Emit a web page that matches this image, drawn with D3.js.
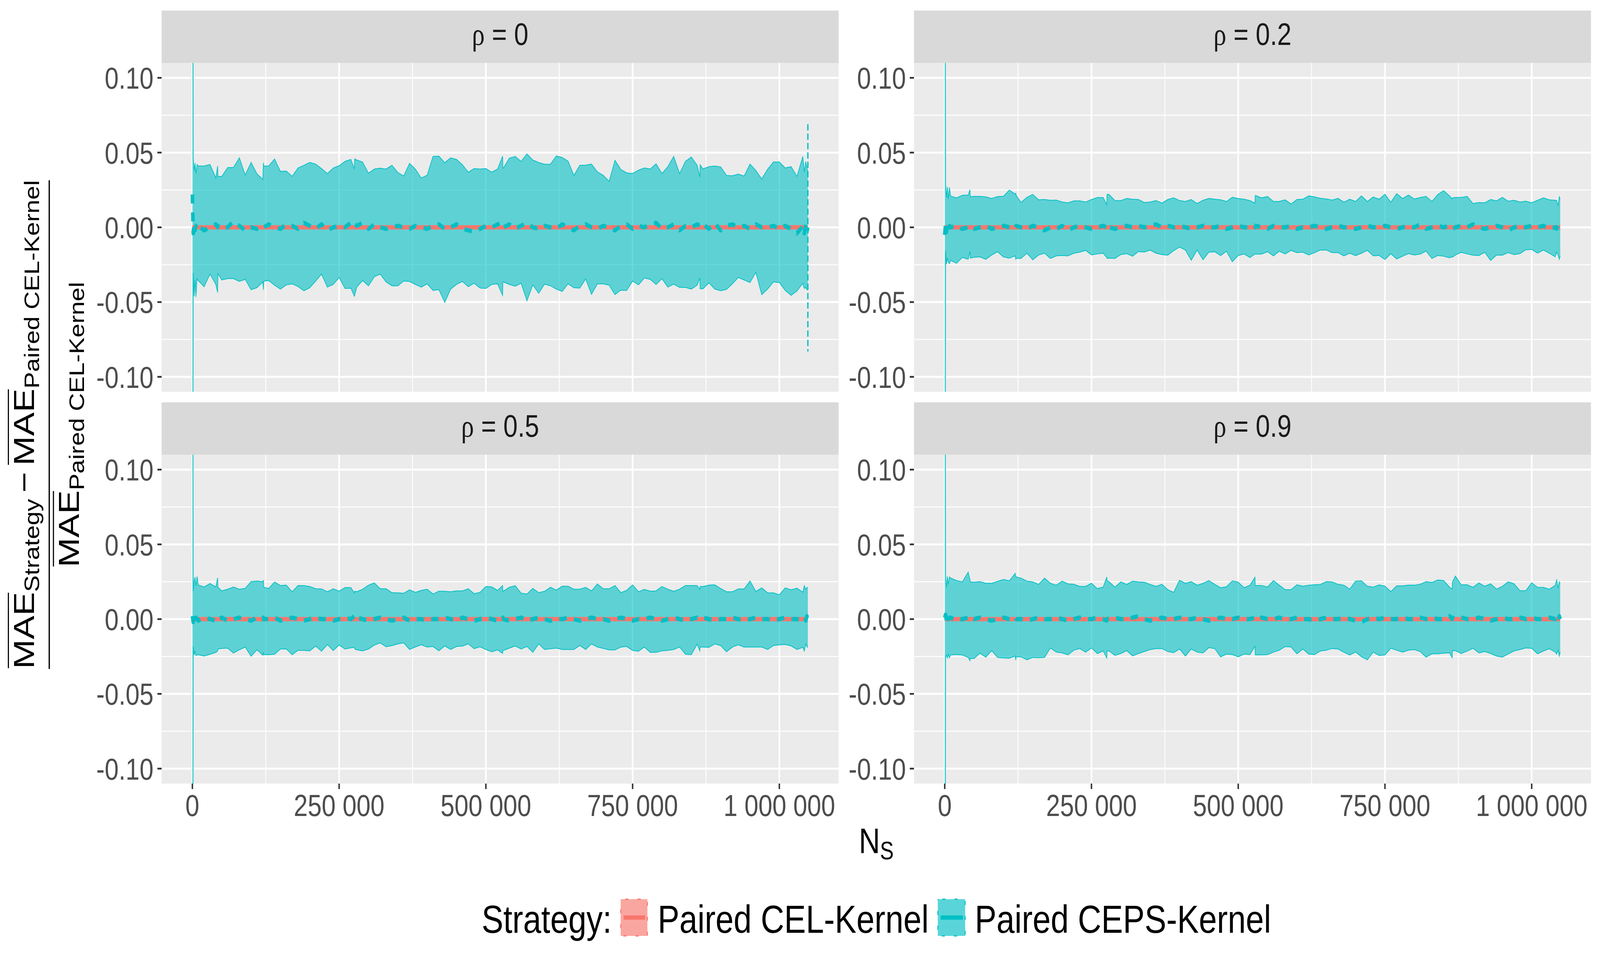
<!DOCTYPE html>
<html><head><meta charset="utf-8">
<script src="https://cdn.jsdelivr.net/npm/d3@7"></script>
<style>html,body{margin:0;padding:0;background:#fff;overflow:hidden} svg{display:block;width:100vw;height:100vh}</style>
</head><body>
<svg id="chart" viewBox="0 0 4970 2450" preserveAspectRatio="none"></svg>
<script>
// ---------------- DATA ----------------
const NS = [1,
 1500,3000,4500,6000,8000,
 10000,20000,30000,40000,
 43000,43500,
 50000,60000,70000,80000,90000,100000,110000,120000,
 121000,121500,
 130000,140000,150000,160000,170000,180000,190000,200000,210000,220000,230000,240000,250000,260000,270000,
 276000,276500,
 280000,290000,300000,310000,320000,330000,340000,350000,360000,370000,380000,390000,400000,410000,420000,430000,440000,450000,460000,470000,480000,490000,500000,510000,520000,
 528500,529000,
 530000,540000,550000,560000,570000,580000,590000,600000,610000,620000,630000,640000,650000,660000,670000,680000,690000,700000,710000,720000,730000,740000,750000,760000,770000,780000,790000,800000,810000,820000,830000,840000,850000,860000,
 864500,865000,
 870000,880000,890000,900000,910000,920000,930000,940000,950000,960000,970000,980000,990000,1000000,1010000,1020000,1030000,1040000,
 1042500,1045000,1047000,1048576];

const rhoLabels = ["0","0.2","0.5","0.9"];
const strategies = ["Paired CEL-Kernel","Paired CEPS-Kernel"];

// Paired CEL-Kernel relative to itself (reference line)
const celNS = [1, 1048576];
const celRel = [0, 0];

// rho = 0
const cepsUpper_r0 = [0.5,
 0.046,0.038,0.043,0.036,0.042,
 0.041,0.041,0.042,0.033,
 0.041,0.034,
 0.034,0.040,0.040,0.0465,0.035,0.0434,0.0358,0.032,
 0.0432,0.041,
 0.041,0.0457,0.0374,0.0376,0.0341,0.0397,0.0415,0.0434,0.0423,0.0393,0.036,0.0397,0.0412,0.0441,0.0454,
 0.0391,0.0457,
 0.045,0.0437,0.0362,0.039,0.0396,0.039,0.0415,0.0367,0.0343,0.0428,0.0389,0.0329,0.0349,0.0474,0.0476,0.0432,0.0465,0.0454,0.0419,0.0369,0.0393,0.039,0.0393,0.0369,0.039,
 0.0476,0.0396,
 0.0396,0.0463,0.0474,0.0441,0.0491,0.045,0.0434,0.0422,0.0422,0.0477,0.0467,0.0443,0.0347,0.0415,0.0416,0.0423,0.0371,0.0347,0.0308,0.0448,0.0387,0.0364,0.036,0.0382,0.0397,0.039,0.0425,0.036,0.0406,0.0474,0.036,0.0441,0.047,0.0415,
 0.0336,0.0418,
 0.0391,0.0406,0.041,0.0404,0.0347,0.0345,0.0356,0.0343,0.0423,0.038,0.0323,0.0389,0.0437,0.0437,0.0397,0.0406,0.0341,0.0474,
 0.0371,0.0439,0.0397,0.037];
const cepsLower_r0 = [-0.5,
 -0.0304,-0.0461,-0.0352,-0.0465,-0.0343,
 -0.0356,-0.0397,-0.0313,-0.0382,
 -0.0435,-0.031,
 -0.0352,-0.0343,-0.0343,-0.0362,-0.0348,-0.0417,-0.0404,-0.0365,
 -0.0417,-0.036,
 -0.0356,-0.0387,-0.0413,-0.0385,-0.0378,-0.0396,-0.0424,-0.0404,-0.0359,-0.0313,-0.04,-0.0382,-0.0335,-0.0409,-0.0407,
 -0.0461,-0.0455,
 -0.040,-0.0356,-0.0391,-0.033,-0.0313,-0.0365,-0.0391,-0.0391,-0.0359,-0.0362,-0.0382,-0.04,-0.0378,-0.0422,-0.0417,-0.0502,-0.0413,-0.0382,-0.0362,-0.0397,-0.0374,-0.0406,-0.0409,-0.0382,-0.0378,
 -0.0455,-0.0365,
 -0.0365,-0.0382,-0.0394,-0.0374,-0.0491,-0.0385,-0.0441,-0.038,-0.0391,-0.0413,-0.0429,-0.0378,-0.0404,-0.0406,-0.0345,-0.0448,-0.0378,-0.0378,-0.0387,-0.045,-0.042,-0.0422,-0.0359,-0.0385,-0.0339,-0.0348,-0.0382,-0.0343,-0.04,-0.038,-0.0402,-0.0402,-0.0413,-0.0387,
 -0.0339,-0.0411,
 -0.0411,-0.0371,-0.0413,-0.0424,-0.0415,-0.0378,-0.0335,-0.0352,-0.0369,-0.0301,-0.045,-0.0413,-0.0365,-0.0369,-0.0422,-0.0455,-0.0426,-0.0374,
 -0.0409,-0.0402,-0.0417,-0.042];
const cepsMean_r0 = [0.022,
 -0.004,0.003,-0.002,0.001,-0.001,
 0.001,-0.002,0.000,0.002,
 0.000,0.001,
 -0.001,0.000,0.004,0.001,-0.002,0.000,-0.001,0.001,
 0.001,0.000,
 0.002,0.000,-0.001,0.002,0.001,-0.001,0.003,0.001,-0.001,0.002,-0.002,0.000,0.001,0.000,0.003,
 0.004,0.002,
 0.001,0.003,-0.001,0.002,0.000,-0.001,0.000,0.001,0.000,-0.001,0.001,0.000,-0.001,0.001,0.002,-0.001,0.000,0.002,-0.001,-0.002,-0.003,-0.001,0.001,0.000,0.002,
 0.003,0.001,
 0.000,0.002,-0.001,0.001,0.003,0.000,-0.001,0.001,0.000,-0.001,0.002,0.000,-0.002,0.001,0.002,0.000,-0.001,0.001,0.000,-0.002,0.001,0.002,-0.001,0.001,0.000,0.002,0.003,-0.001,0.000,0.002,-0.002,0.001,0.000,0.002,
 0.001,0.000,
 0.002,-0.001,0.003,-0.002,0.001,0.002,0.000,0.001,-0.001,0.002,0.000,0.000,0.001,-0.001,0.001,-0.001,-0.004,0.001,
 -0.004,0.002,-0.003,0.000];
// last-point interval drawn as dashed segment (rho = 0 only)
const endSpikeN_r0 = [1048576];
const endSpikeLo_r0 = [-0.083];
const endSpikeHi_r0 = [0.069];

// rho = 0.2
const cepsUpper_r02 = [0.5,
 0.0293,0.0197,0.0271,0.0188,0.0267,
 0.021,0.0197,0.0214,0.0216,
 0.0251,0.0205,
 0.0207,0.0207,0.0204,0.0193,0.0206,0.0208,0.0249,0.0223,
 0.0228,0.0215,
 0.0166,0.0201,0.022,0.0184,0.0186,0.0181,0.0182,0.0169,0.0164,0.0177,0.0177,0.0169,0.0186,0.0199,0.0199,
 0.0151,0.022,
 0.022,0.0179,0.0179,0.0193,0.0188,0.0186,0.0166,0.0169,0.0179,0.0162,0.0186,0.0197,0.0179,0.0173,0.0186,0.0159,0.0181,0.0193,0.0188,0.0184,0.0173,0.0201,0.0193,0.0188,0.0179,
 0.0162,0.0212,
 0.0212,0.0197,0.0206,0.0173,0.0173,0.0184,0.0156,0.0186,0.0188,0.021,0.0204,0.0194,0.019,0.0182,0.0194,0.0168,0.0188,0.0173,0.021,0.0173,0.0203,0.0188,0.0221,0.0168,0.0225,0.0193,0.0216,0.019,0.0199,0.0207,0.0173,0.0219,0.0245,0.021,
 0.019,0.0197,
 0.02,0.02,0.0207,0.0159,0.0166,0.0164,0.0186,0.0177,0.02,0.0175,0.0181,0.0169,0.0175,0.0164,0.0181,0.0197,0.0184,0.0181,
 0.0179,0.0145,0.0204,0.019];
const cepsLower_r02 = [-0.5,
 -0.0156,-0.0247,-0.0204,-0.0232,-0.0243,
 -0.0221,-0.024,-0.0202,-0.0213,
 -0.016,-0.0206,
 -0.02,-0.0198,-0.0214,-0.0185,-0.0163,-0.0198,-0.0206,-0.0191,
 -0.0213,-0.0208,
 -0.0208,-0.0173,-0.0217,-0.0185,-0.0173,-0.0208,-0.0191,-0.0188,-0.0191,-0.0173,-0.0166,-0.0154,-0.0184,-0.0178,-0.0173,
 -0.0202,-0.0208,
 -0.0206,-0.0208,-0.0182,-0.0176,-0.0193,-0.0162,-0.0165,-0.0152,-0.0173,-0.0182,-0.0186,-0.0156,-0.0132,-0.0152,-0.022,-0.0152,-0.0217,-0.0166,-0.0163,-0.0189,-0.016,-0.023,-0.0189,-0.0178,-0.0202,
 -0.0178,-0.0179,
 -0.0179,-0.0179,-0.0163,-0.0191,-0.016,-0.0178,-0.0154,-0.0169,-0.0166,-0.0185,-0.0169,-0.0152,-0.0152,-0.0169,-0.0169,-0.0191,-0.0173,-0.0189,-0.0173,-0.0154,-0.0191,-0.0188,-0.0215,-0.0176,-0.0211,-0.0193,-0.0176,-0.0185,-0.0179,-0.0159,-0.0208,-0.0188,-0.0193,-0.0204,
 -0.0197,-0.02,
 -0.0185,-0.0167,-0.0178,-0.0186,-0.0189,-0.0167,-0.0221,-0.0186,-0.0186,-0.0169,-0.0182,-0.0176,-0.015,-0.0147,-0.0173,-0.0152,-0.0173,-0.0197,
 -0.0165,-0.0186,-0.0213,-0.019];
const cepsMean_r02 = [-0.005,
 0.003,-0.003,0.002,-0.002,0.001,
 0.000,0.001,-0.001,0.000,
 0.001,0.000,
 -0.001,0.000,0.001,-0.001,0.000,0.001,0.000,-0.001,
 0.000,0.001,
 0.000,-0.001,0.001,0.000,-0.002,0.000,-0.001,0.001,-0.002,0.000,0.001,0.000,-0.001,0.000,0.001,
 0.000,-0.002,
 0.000,-0.001,0.000,0.001,0.000,0.001,0.000,0.001,0.002,0.000,0.001,0.000,0.001,0.000,-0.001,0.000,0.001,0.000,0.000,0.001,-0.001,0.000,0.001,0.000,0.000,
 0.001,0.000,
 0.001,0.000,-0.001,0.001,0.000,0.000,0.001,-0.001,0.000,0.000,0.001,0.000,-0.001,0.000,0.001,0.000,0.000,-0.001,0.000,0.001,0.000,0.000,0.001,0.000,-0.001,0.000,0.001,0.000,0.002,-0.001,0.000,0.001,0.000,0.001,
 0.000,-0.001,
 0.000,0.001,0.000,0.002,0.000,-0.001,0.000,0.001,0.000,-0.002,0.000,0.001,0.000,0.001,0.000,0.001,-0.001,0.000,
 -0.001,0.001,-0.002,0.000];

// rho = 0.5
const cepsUpper_r05 = [0.5,
 0.0187,0.0257,0.0281,0.0222,0.0285,
 0.0229,0.0215,0.0238,0.0215,
 0.0276,0.0213,
 0.0189,0.02,0.0215,0.02,0.0206,0.0251,0.0255,0.025,
 0.0261,0.0213,
 0.0205,0.0248,0.0225,0.0227,0.0183,0.0225,0.0224,0.0218,0.0203,0.0202,0.0183,0.0203,0.0187,0.0211,0.0211,
 0.0174,0.0187,
 0.0183,0.02,0.0227,0.0242,0.0203,0.0203,0.0177,0.0176,0.0173,0.0196,0.0179,0.0192,0.02,0.0168,0.0187,0.0186,0.0183,0.0189,0.0189,0.0203,0.017,0.0179,0.0218,0.0216,0.0192,
 0.0224,0.0187,
 0.0187,0.0213,0.0224,0.0174,0.0168,0.0206,0.0177,0.0186,0.0213,0.0194,0.022,0.022,0.02,0.02,0.0212,0.0189,0.0235,0.0203,0.0203,0.0224,0.0177,0.0193,0.0229,0.0183,0.0199,0.0187,0.0189,0.0218,0.02,0.0186,0.02,0.0225,0.0225,0.0224,
 0.0198,0.0218,
 0.0218,0.0227,0.0229,0.0205,0.0183,0.0183,0.0202,0.0202,0.0255,0.0185,0.0209,0.0176,0.0176,0.0163,0.0209,0.0196,0.0207,0.018,
 0.0224,0.0198,0.0212,0.021];
const cepsLower_r05 = [-0.5,
 -0.0183,-0.024,-0.0213,-0.0244,-0.024,
 -0.0238,-0.0247,-0.0235,-0.0222,
 -0.0213,-0.02,
 -0.0196,-0.0194,-0.0227,-0.0205,-0.0187,-0.0248,-0.0205,-0.0241,
 -0.0222,-0.0238,
 -0.0238,-0.0235,-0.02,-0.0199,-0.0238,-0.0209,-0.0209,-0.0212,-0.018,-0.0215,-0.017,-0.021,-0.0173,-0.02,-0.0192,
 -0.0189,-0.02,
 -0.0205,-0.0212,-0.02,-0.0174,-0.0159,-0.0185,-0.0177,-0.0166,-0.0159,-0.0203,-0.0186,-0.0172,-0.0187,-0.0183,-0.0212,-0.0179,-0.0203,-0.0183,-0.018,-0.0166,-0.0198,-0.0185,-0.0203,-0.0218,-0.0206,
 -0.0229,-0.0209,
 -0.0209,-0.0194,-0.018,-0.02,-0.0183,-0.0222,-0.0166,-0.0203,-0.0198,-0.0194,-0.0203,-0.0203,-0.0203,-0.0176,-0.0203,-0.0166,-0.0187,-0.0196,-0.0206,-0.0206,-0.0187,-0.0183,-0.0209,-0.0215,-0.0187,-0.0222,-0.0222,-0.0212,-0.0209,-0.0203,-0.0187,-0.0235,-0.0238,-0.0168,
 -0.0212,-0.0187,
 -0.0187,-0.0189,-0.0166,-0.0177,-0.0218,-0.0187,-0.0172,-0.0187,-0.0187,-0.0187,-0.0187,-0.0203,-0.0177,-0.0172,-0.017,-0.0179,-0.0203,-0.0189,
 -0.0213,-0.0166,-0.0183,-0.019];
const cepsMean_r05 = [0.002,
 -0.002,0.002,-0.001,0.001,0.000,
 -0.001,0.001,0.000,-0.001,
 0.001,0.000,
 0.001,-0.001,0.000,0.001,0.000,-0.001,0.001,0.000,
 0.001,0.000,
 0.000,0.001,-0.001,0.000,0.001,0.000,-0.001,0.000,0.001,0.000,0.000,-0.001,0.000,0.001,0.000,
 0.002,0.000,
 0.001,0.000,-0.001,0.000,0.001,0.000,-0.001,0.000,0.001,-0.001,0.000,0.000,-0.001,0.000,0.000,0.001,0.000,-0.001,0.001,0.000,-0.001,0.000,0.001,0.000,-0.001,
 0.000,0.001,
 0.000,-0.001,0.000,0.001,-0.001,0.000,0.001,0.000,-0.001,0.000,0.000,0.001,0.000,-0.001,0.000,0.001,0.000,0.000,-0.001,0.000,0.001,0.000,-0.001,0.000,0.000,0.001,0.000,-0.001,0.000,0.001,0.000,-0.001,0.000,0.001,
 0.000,0.000,
 0.001,0.000,-0.001,0.000,0.000,0.001,0.000,-0.001,0.000,0.001,0.000,0.000,-0.001,0.000,0.001,0.000,0.000,-0.001,
 0.001,-0.001,0.002,0.000];

// rho = 0.9
const cepsUpper_r09 = [0.5,
 0.0284,0.021,0.0286,0.0232,0.0282,
 0.0275,0.0258,0.0249,0.0315,
 0.0262,0.0249,
 0.0247,0.0251,0.024,0.024,0.0252,0.0265,0.0256,0.0306,
 0.0286,0.0282,
 0.0274,0.0254,0.0249,0.0232,0.0274,0.024,0.0227,0.0254,0.0236,0.0233,0.0219,0.0219,0.024,0.0204,0.0214,
 0.0282,0.0258,
 0.0249,0.0214,0.0249,0.0232,0.0254,0.0249,0.0247,0.0232,0.0219,0.0233,0.0197,0.0179,0.026,0.024,0.0251,0.0227,0.0239,0.0258,0.0233,0.021,0.0217,0.0256,0.0247,0.021,0.0227,
 0.028,0.0225,
 0.0225,0.0225,0.0214,0.0258,0.0227,0.0197,0.0197,0.023,0.022,0.0227,0.023,0.0232,0.0251,0.0249,0.0233,0.0227,0.0201,0.0254,0.0256,0.022,0.0214,0.0229,0.022,0.0184,0.0223,0.0223,0.0227,0.0227,0.0233,0.0251,0.0245,0.0262,0.0258,0.0214,
 0.0201,0.0249,
 0.0288,0.0229,0.023,0.0213,0.0242,0.022,0.0236,0.0201,0.0219,0.0249,0.0236,0.019,0.0191,0.0243,0.0213,0.0212,0.02,0.0226,
 0.0262,0.0207,0.0249,0.024];
const cepsLower_r09 = [-0.5,
 -0.0256,-0.024,-0.026,-0.0234,-0.0258,
 -0.024,-0.0237,-0.024,-0.0256,
 -0.0278,-0.0263,
 -0.0263,-0.0228,-0.0254,-0.0211,-0.0256,-0.026,-0.0261,-0.0247,
 -0.0274,-0.0252,
 -0.0252,-0.0272,-0.0256,-0.0258,-0.0256,-0.0193,-0.022,-0.0226,-0.0239,-0.0208,-0.0197,-0.0221,-0.0193,-0.023,-0.0213,
 -0.026,-0.0213,
 -0.0213,-0.0243,-0.023,-0.0211,-0.0246,-0.023,-0.0217,-0.0204,-0.0197,-0.0197,-0.0217,-0.0224,-0.02,-0.0247,-0.02,-0.0221,-0.0226,-0.0191,-0.0197,-0.0252,-0.0234,-0.0237,-0.0252,-0.0234,-0.0237,
 -0.0182,-0.0239,
 -0.0239,-0.0239,-0.0237,-0.0221,-0.0208,-0.0184,-0.0186,-0.0232,-0.02,-0.0234,-0.0237,-0.0213,-0.0208,-0.0197,-0.02,-0.0221,-0.024,-0.022,-0.0252,-0.0272,-0.0221,-0.0243,-0.024,-0.0195,-0.0208,-0.0221,-0.0208,-0.0204,-0.0217,-0.0254,-0.0232,-0.0232,-0.0228,-0.0226,
 -0.0258,-0.0211,
 -0.0211,-0.023,-0.0214,-0.0195,-0.0226,-0.0217,-0.023,-0.0247,-0.0254,-0.0233,-0.0213,-0.0204,-0.0193,-0.0195,-0.0232,-0.0213,-0.0198,-0.022,
 -0.0234,-0.0208,-0.0247,-0.022];
const cepsMean_r09 = [0.001,
 0.003,-0.002,0.002,0.000,0.001,
 0.001,-0.001,0.000,0.001,
 0.000,0.001,
 0.000,0.001,0.000,-0.001,0.000,0.001,0.000,0.000,
 0.001,0.000,
 0.000,-0.001,0.000,0.001,0.000,0.000,0.001,0.000,-0.001,0.000,0.001,0.000,0.000,0.001,0.000,
 -0.001,0.000,
 0.000,0.001,0.000,0.000,0.001,0.002,0.000,-0.001,0.000,0.001,0.000,0.000,0.001,0.000,0.000,0.001,0.000,-0.001,0.000,0.001,0.000,0.000,0.001,0.000,0.000,
 0.001,0.000,
 0.000,0.001,0.000,0.000,0.001,0.000,0.000,0.001,0.000,0.000,-0.001,0.000,0.001,0.000,0.000,0.001,0.000,-0.001,-0.002,0.000,0.001,0.000,0.001,0.000,0.000,0.001,0.000,0.000,0.001,0.000,0.001,0.000,0.000,0.002,
 0.000,0.001,
 0.000,0.001,0.000,0.000,0.001,0.000,-0.001,0.000,0.001,0.000,0.000,0.001,0.000,0.001,0.000,0.000,0.001,0.000,
 0.002,-0.001,0.002,0.000];

// axis ticks
const yTicks = [-0.10,-0.05,0,0.05,0.10];
const yTickLabels = ["-0.10","-0.05","0.00","0.05","0.10"];
const yMinor = [-0.075,-0.025,0.025,0.075];
const xTicks = [0,250000,500000,750000,1000000];
const xTickLabels = ["0","250 000","500 000","750 000","1 000 000"];
const xMinor = [125000,375000,625000,875000];

// ---------------- DRAWING ----------------
const FONT = "'Liberation Sans', Arial, Helvetica, sans-serif";
const RED = "#F8766D", CYAN = "#00BFC4";
const svg = d3.select("#chart");
svg.append("rect").attr("width",4970).attr("height",2450).attr("fill","#fff");
const defs = svg.append("defs");

const panelData = [
  {rho: rhoLabels[0], up: cepsUpper_r0, lo: cepsLower_r0, mean: cepsMean_r0, sN: endSpikeN_r0, sLo: endSpikeLo_r0, sHi: endSpikeHi_r0},
  {rho: rhoLabels[1], up: cepsUpper_r02, lo: cepsLower_r02, mean: cepsMean_r02},
  {rho: rhoLabels[2], up: cepsUpper_r05, lo: cepsLower_r05, mean: cepsMean_r05},
  {rho: rhoLabels[3], up: cepsUpper_r09, lo: cepsLower_r09, mean: cepsMean_r09}
];

const cols = [{l:502, r:2605},{l:2839, r:4942}];
const rows = [{st:27, t:161, b:1003},{st:1030, t:1164, b:2006}];
const nMin = d3.min(NS), nMax = d3.max(NS), span = nMax - nMin;

panelData.forEach((pd, i) => {
  const c = cols[i % 2], r = rows[Math.floor(i / 2)];
  const x = d3.scaleLinear().domain([nMin - 0.05*span, nMax + 0.05*span]).range([c.l, c.r]);
  const y = d3.scaleLinear().domain([-0.11, 0.11]).range([r.b, r.t]);
  const g = svg.append("g");

  // strip
  g.append("rect").attr("x",c.l).attr("y",r.st).attr("width",c.r-c.l).attr("height",r.t-r.st).attr("fill","#D9D9D9");
  const st = g.append("text").attr("x",(c.l+c.r)/2).attr("y",r.st+88).attr("text-anchor","middle")
    .attr("font-size",80).attr("fill","#1A1A1A").attr("font-family",FONT);
  st.append("tspan").attr("font-family","'Liberation Serif','DejaVu Serif',serif").text("ρ");
  st.append("tspan").text(" = " + pd.rho);

  // panel bg + grid
  g.append("rect").attr("x",c.l).attr("y",r.t).attr("width",c.r-c.l).attr("height",r.b-r.t).attr("fill","#EBEBEB");
  g.selectAll(null).data(yMinor).enter().append("line")
    .attr("x1",c.l).attr("x2",c.r).attr("y1",d=>y(d)).attr("y2",d=>y(d)).attr("stroke","#fff").attr("stroke-width",2.5);
  g.selectAll(null).data(xMinor).enter().append("line")
    .attr("y1",r.t).attr("y2",r.b).attr("x1",d=>x(d)).attr("x2",d=>x(d)).attr("stroke","#fff").attr("stroke-width",2.5);
  g.selectAll(null).data(yTicks).enter().append("line")
    .attr("x1",c.l).attr("x2",c.r).attr("y1",d=>y(d)).attr("y2",d=>y(d)).attr("stroke","#fff").attr("stroke-width",5);
  g.selectAll(null).data(xTicks).enter().append("line")
    .attr("y1",r.t).attr("y2",r.b).attr("x1",d=>x(d)).attr("x2",d=>x(d)).attr("stroke","#fff").attr("stroke-width",5);

  // clip
  defs.append("clipPath").attr("id","clip"+i).append("rect")
    .attr("x",c.l).attr("y",r.t).attr("width",c.r-c.l).attr("height",r.b-r.t);
  const pg = g.append("g").attr("clip-path","url(#clip"+i+")");

  const n = Math.min(NS.length, pd.up.length, pd.lo.length, pd.mean.length);
  if (n !== NS.length) console.warn("length mismatch panel", i, NS.length, pd.up.length, pd.lo.length, pd.mean.length);
  const rowsData = d3.range(n).map(j => ({N: NS[j], lo: pd.lo[j], hi: pd.up[j], m: pd.mean[j]}));

  pg.append("path").datum(rowsData)
    .attr("d", d3.area().x(d=>x(d.N)).y0(d=>y(d.lo)).y1(d=>y(d.hi)))
    .attr("fill",CYAN).attr("fill-opacity",0.6);
  pg.append("path").datum(rowsData)
    .attr("d", d3.line().x(d=>x(d.N)).y(d=>y(d.hi)))
    .attr("fill","none").attr("stroke",CYAN).attr("stroke-width",2);
  pg.append("path").datum(rowsData)
    .attr("d", d3.line().x(d=>x(d.N)).y(d=>y(d.lo)))
    .attr("fill","none").attr("stroke",CYAN).attr("stroke-width",2);

  if (pd.sN) {
    pg.selectAll(null).data(pd.sN.map((v,k)=>({N:v, lo:pd.sLo[k], hi:pd.sHi[k]}))).enter().append("line")
      .attr("x1",d=>x(d.N)).attr("x2",d=>x(d.N)).attr("y1",d=>y(d.hi)).attr("y2",d=>y(d.lo))
      .attr("stroke",CYAN).attr("stroke-width",4).attr("stroke-dasharray","16 8");
  }

  // CEL reference line
  pg.append("path").datum(celNS.map((v,k)=>({N:v, m:celRel[k]})))
    .attr("d", d3.line().x(d=>x(d.N)).y(d=>y(d.m)))
    .attr("fill","none").attr("stroke",RED).attr("stroke-width",11);
  // CEPS mean
  pg.append("path").datum(rowsData)
    .attr("d", d3.line().x(d=>x(d.N)).y(d=>y(d.m)))
    .attr("fill","none").attr("stroke",CYAN).attr("stroke-width",11)
    .attr("stroke-dasharray","23 23").attr("stroke-linejoin","round");

  // y axis
  g.selectAll(null).data(yTicks).enter().append("line")
    .attr("x1",c.l-13).attr("x2",c.l).attr("y1",d=>y(d)).attr("y2",d=>y(d)).attr("stroke","#333").attr("stroke-width",4.5);
  g.selectAll(null).data(yTicks).enter().append("text")
    .attr("x",c.l-25).attr("y",d=>y(d)+28).attr("text-anchor","end")
    .attr("font-size",78).attr("fill","#4D4D4D").attr("font-family",FONT)
    .text((d,k)=>yTickLabels[k]);

  // x axis (bottom row only)
  if (Math.floor(i/2) === 1) {
    g.selectAll(null).data(xTicks).enter().append("line")
      .attr("x1",d=>x(d)).attr("x2",d=>x(d)).attr("y1",r.b).attr("y2",r.b+14).attr("stroke","#333").attr("stroke-width",4.5);
    g.selectAll(null).data(xTicks).enter().append("text")
      .attr("x",d=>x(d)).attr("y",r.b+83).attr("text-anchor","middle")
      .attr("font-size",78).attr("fill","#4D4D4D").attr("font-family",FONT)
      .text((d,k)=>xTickLabels[k]);
  }
});

// ---------- y-axis title (fraction) ----------
const yt = svg.append("g").attr("transform","translate(0,1087) rotate(-90)");
function richLine(g, pieces, baseline, subShift) {
  const items = pieces.map(p => {
    if (p.gap) return {w: p.gap};
    const t = g.append("text").attr("font-family",FONT).attr("font-size", p.sub ? 64 : 91)
      .attr("fill","#000").attr("y", baseline + (p.sub ? subShift : 0)).text(p.t);
    return {el: t, w: t.node().getComputedTextLength(), over: p.over};
  });
  const total = d3.sum(items, d => d.w);
  let u = -total/2;
  items.forEach(it => {
    if (it.el) {
      it.el.attr("x", u);
      if (it.over) g.append("line").attr("x1",u+2).attr("x2",u+it.w-2)
        .attr("y1",baseline-79).attr("y2",baseline-79).attr("stroke","#000").attr("stroke-width",3.5);
    }
    u += it.w;
  });
  return total;
}
const numW = richLine(yt, [
  {t:"MAE", over:true}, {t:"Strategy", sub:true}, {gap:16}, {t:"\u2212"}, {gap:16},
  {t:"MAE", over:true}, {t:"Paired CEL-Kernel", sub:true}], 105, 16);
const denW = richLine(yt, [{t:"MAE", over:true}, {t:"Paired CEL-Kernel", sub:true}], 245, 16);
const barW = Math.max(numW, denW);
yt.append("line").attr("x1",-barW/2).attr("x2",barW/2).attr("y1",153).attr("y2",153)
  .attr("stroke","#000").attr("stroke-width",4);

// ---------- x-axis title N_S ----------
const xtG = svg.append("g");
const tN = xtG.append("text").attr("font-family",FONT).attr("font-size",91).attr("y",2184).text("N");
const tS = xtG.append("text").attr("font-family",FONT).attr("font-size",64).attr("y",2200).text("S");
const wN = tN.node().getComputedTextLength(), wS = tS.node().getComputedTextLength();
const x0t = 2722 - (wN + wS)/2;
tN.attr("x", x0t); tS.attr("x", x0t + wN);

// ---------- legend ----------
const leg = svg.append("g");
leg.append("text").attr("x",1496).attr("y",2388).attr("font-family",FONT).attr("font-size",101).attr("fill","#000").text("Strategy:");
const keys = [
  {x:1928, w:83, color:RED, label:strategies[0], lx:2043},
  {x:2913, w:85, color:CYAN, label:strategies[1], lx:3028}
];
keys.forEach(k => {
  leg.append("rect").attr("x",k.x).attr("y",2302).attr("width",k.w).attr("height",94)
    .attr("fill",k.color).attr("fill-opacity",0.65)
    .attr("stroke",k.color).attr("stroke-width",3).attr("stroke-dasharray","10 28").attr("stroke-dashoffset",-14);
  leg.append("line").attr("x1",k.x+9).attr("x2",k.x+k.w-7).attr("y1",2349).attr("y2",2349)
    .attr("stroke",k.color).attr("stroke-width",11);
  leg.append("text").attr("x",k.lx).attr("y",2388).attr("font-family",FONT).attr("font-size",101).attr("fill","#000").text(k.label);
});
</script>
</body></html>
